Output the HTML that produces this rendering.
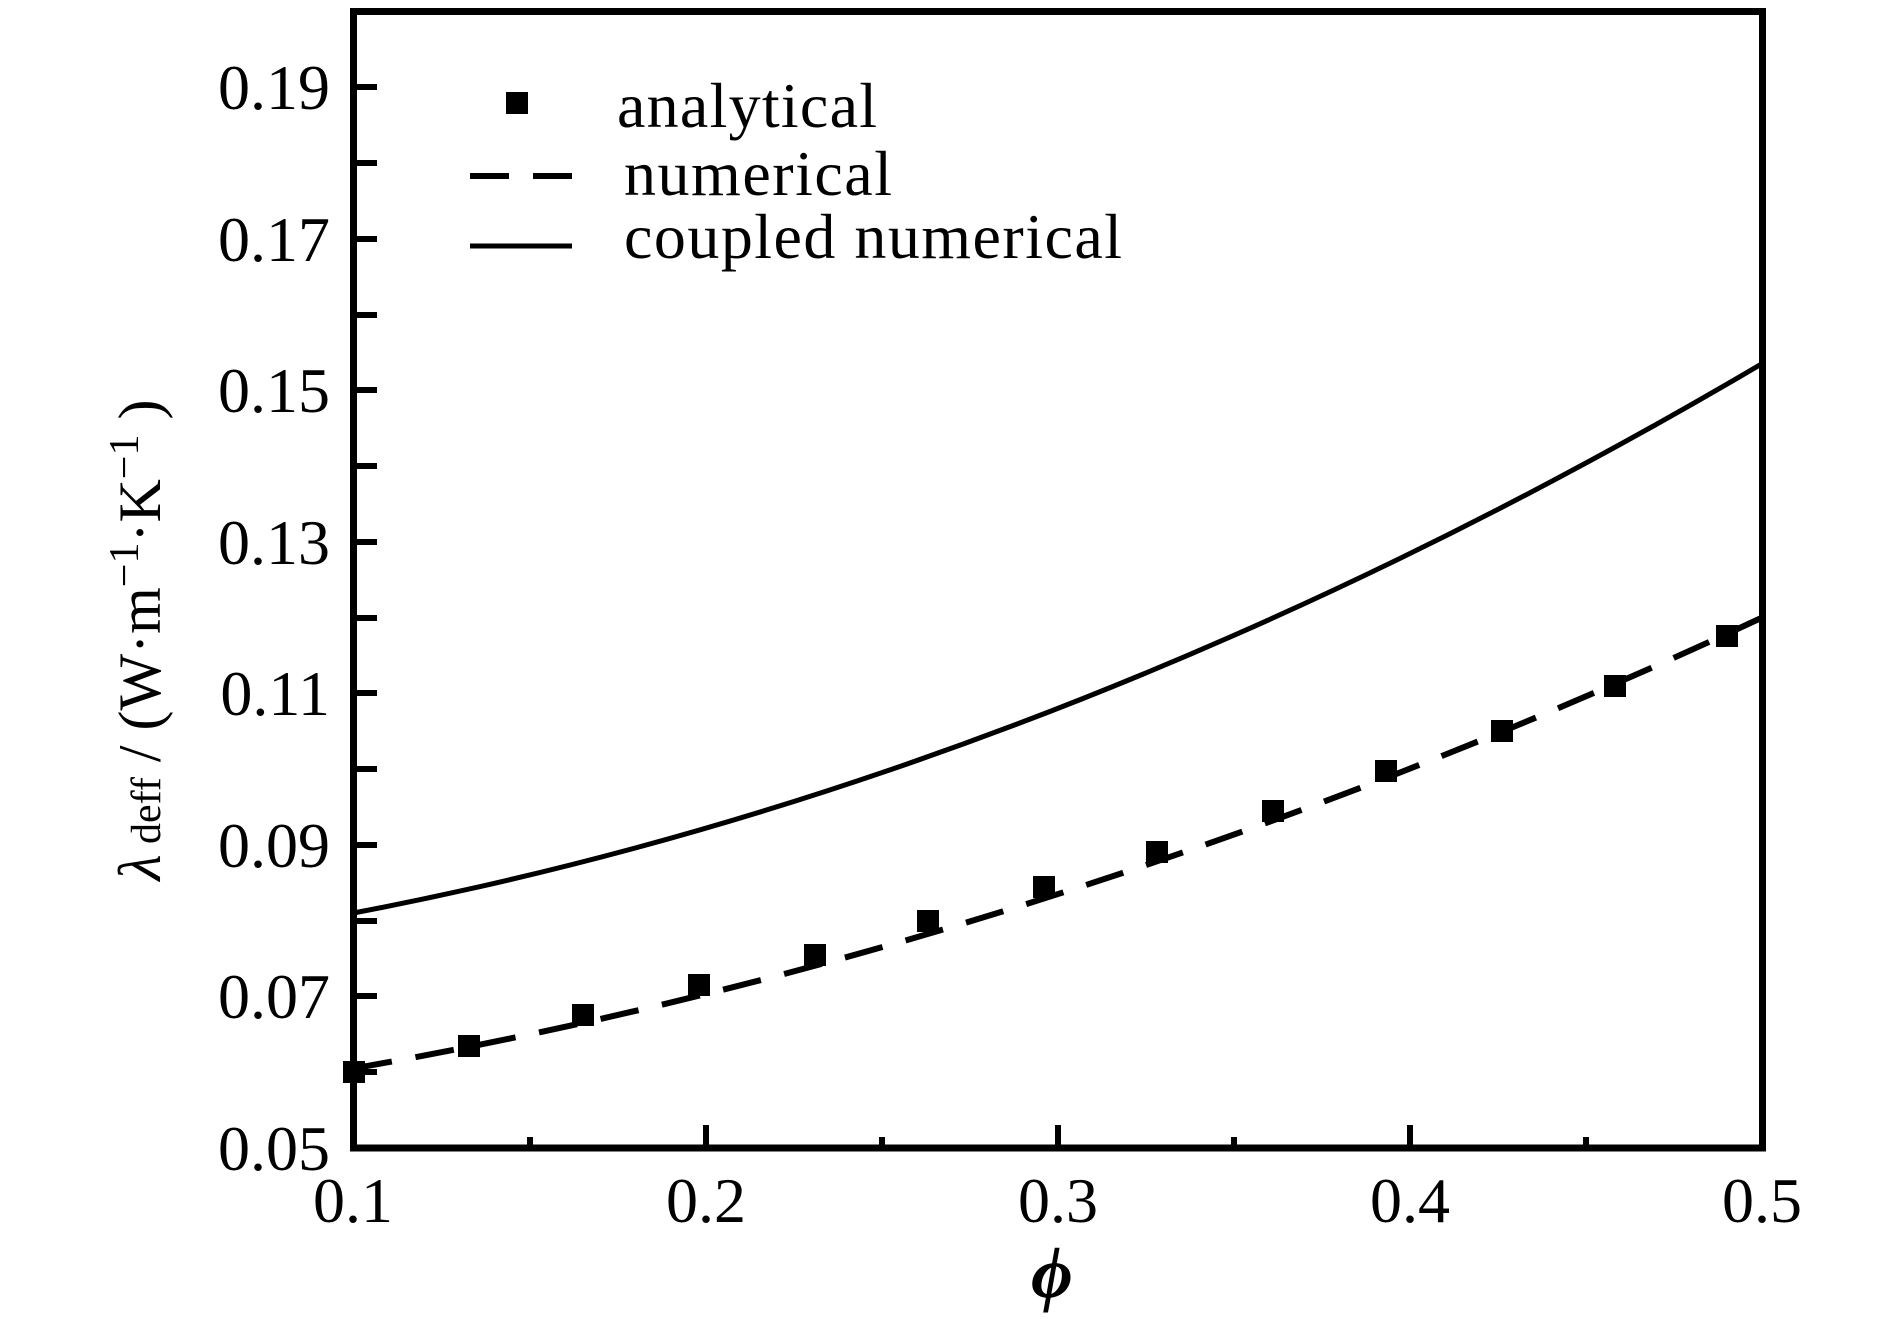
<!DOCTYPE html>
<html><head><meta charset="utf-8"><style>html,body{margin:0;padding:0;background:#fff}svg{display:block}</style></head>
<body>
<svg width="1890" height="1323" viewBox="0 0 1890 1323" xmlns="http://www.w3.org/2000/svg" font-family="'Liberation Serif', serif">
<rect width="1890" height="1323" fill="#fff"/>
<g stroke="#000" stroke-width="6">
<line x1="357" y1="87" x2="377" y2="87"/><line x1="357" y1="163" x2="377" y2="163"/>
<line x1="357" y1="239" x2="377" y2="239"/><line x1="357" y1="315" x2="377" y2="315"/>
<line x1="357" y1="390" x2="377" y2="390"/><line x1="357" y1="466" x2="377" y2="466"/>
<line x1="357" y1="542" x2="377" y2="542"/><line x1="357" y1="618" x2="377" y2="618"/>
<line x1="357" y1="693" x2="377" y2="693"/><line x1="357" y1="769" x2="377" y2="769"/>
<line x1="357" y1="845" x2="377" y2="845"/><line x1="357" y1="921" x2="377" y2="921"/>
<line x1="357" y1="996" x2="377" y2="996"/><line x1="357" y1="1072" x2="377" y2="1072"/>
<line x1="706" y1="1145" x2="706" y2="1125"/><line x1="1058" y1="1145" x2="1058" y2="1125"/><line x1="1410" y1="1145" x2="1410" y2="1125"/>
<line x1="530" y1="1145" x2="530" y2="1137"/><line x1="882" y1="1145" x2="882" y2="1137"/><line x1="1234" y1="1145" x2="1234" y2="1137"/><line x1="1586" y1="1145" x2="1586" y2="1137"/>
</g>
<g fill="none" stroke="#000">
<path stroke-width="5" d="M353.5,913 Q1058,778.5 1762.5,363.4"/>
<path stroke-dasharray="39,24" stroke-width="6" d="M353.5,1068.4 Q1058,945.2 1762.5,617.4"/>
</g>
<g fill="#000">
<rect x="343" y="1061" width="22" height="22"/><rect x="458" y="1035" width="22" height="22"/>
<rect x="572" y="1004" width="22" height="22"/><rect x="688" y="974" width="22" height="22"/>
<rect x="804" y="944" width="22" height="22"/><rect x="917" y="910" width="22" height="22"/>
<rect x="1033" y="876" width="22" height="22"/><rect x="1146" y="841" width="22" height="22"/>
<rect x="1262" y="800" width="22" height="22"/><rect x="1375" y="760" width="22" height="22"/>
<rect x="1491" y="720" width="22" height="22"/><rect x="1604" y="675" width="22" height="22"/>
<rect x="1716" y="625" width="22" height="22"/>
</g>
<rect x="353.5" y="11.5" width="1409" height="1136.5" fill="none" stroke="#000" stroke-width="7"/>
<g font-size="64" text-anchor="end">
<text x="330" y="109">0.19</text><text x="330" y="261">0.17</text><text x="330" y="412">0.15</text>
<text x="330" y="564">0.13</text><text x="330" y="715">0.11</text><text x="330" y="867">0.09</text>
<text x="330" y="1018">0.07</text><text x="330" y="1170">0.05</text>
</g>
<g font-size="64" text-anchor="middle">
<text x="353" y="1222">0.1</text><text x="706" y="1222">0.2</text><text x="1058" y="1222">0.3</text>
<text x="1410" y="1222">0.4</text><text x="1762" y="1222">0.5</text>
</g>
<text x="1052" y="1297" font-size="72" font-style="italic" font-weight="bold" text-anchor="middle">ϕ</text>
<rect x="506" y="92" width="22" height="22" fill="#000"/>
<line x1="470" y1="176" x2="572" y2="176" stroke="#000" stroke-width="6" stroke-dasharray="39,24"/>
<line x1="470" y1="246" x2="572" y2="246" stroke="#000" stroke-width="5"/>
<g font-size="64">
<text x="617" y="127" textLength="260">analytical</text>
<text x="624" y="195" textLength="268">numerical</text>
<text x="624" y="258" textLength="498">coupled numerical</text>
</g>
<text transform="translate(160,640) rotate(-90)" font-size="60" text-anchor="middle"><tspan font-style="italic">λ</tspan><tspan font-size="42"> deff</tspan><tspan> / (W·m</tspan><tspan font-size="42" dy="-22">−1</tspan><tspan dy="22">·K</tspan><tspan font-size="42" dy="-22">−1</tspan><tspan dy="22"> )</tspan></text>
</svg>
</body></html>
